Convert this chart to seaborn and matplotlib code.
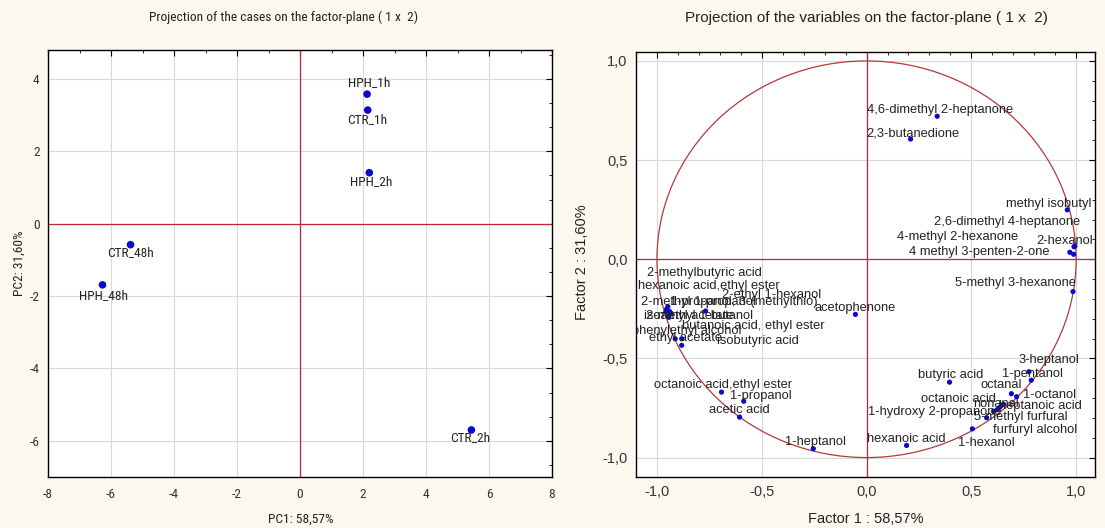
import numpy as np
import pandas as pd
import matplotlib
matplotlib.use("Agg")
import matplotlib.pyplot as plt
from matplotlib import font_manager
from matplotlib.font_manager import FontProperties
from matplotlib.patches import Circle
from matplotlib.ticker import MultipleLocator, AutoMinorLocator, FuncFormatter
import seaborn as sns

# cases (factor scores)
cases = ["HPH_1h", "CTR_1h", "HPH_2h", "CTR_48h", "HPH_48h", "CTR_2h"]
pc1 = [2.13, 2.15, 2.2, -5.38, -6.27, 5.44]
pc2 = [3.58, 3.14, 1.41, -0.58, -1.69, -5.70]

# variables (factor loadings)
variables = [
    "4,6-dimethyl 2-heptanone", "2,3-butanedione", "methyl isobutyl ketone",
    "2,6-dimethyl 4-heptanone", "4-methyl 2-hexanone", "2-hexanol",
    "4 methyl 3-penten-2-one", "5-methyl 3-hexanone", "acetophenone",
    "2-methylbutyric acid", "hexanoic acid,ethyl ester", "2-ethyl 1-hexanol",
    "2-methyl 1-propanol", "1-propanol, 3-(methylthio)", "isoamyl acetate",
    "2-methyl 1-butanol", "phenylethyl alcohol", "butanoic acid, ethyl ester",
    "ethyl acetate", "isobutyric acid", "octanoic acid,ethyl ester",
    "1-propanol", "acetic acid", "1-heptanol", "hexanoic acid", "1-hexanol",
    "furfuryl alcohol", "5-methyl furfural", "1-hydroxy 2-propanone",
    "octanoic acid", "nonanal", "heptanoic acid", "octanal", "1-octanol",
    "1-pentanol", "3-heptanol", "butyric acid",
]
factor1 = [0.337, 0.210, 0.958, 0.990, 0.970, 0.994, 0.988, 0.985, -0.053,
           -0.948, -0.958, -0.945, -0.932, -0.768, -0.955, -0.940, -0.882,
           -0.943, -0.913, -0.882, -0.692, -0.586, -0.606, -0.254, 0.191,
           0.505, 0.573, 0.606, 0.624, 0.636, 0.644, 0.654, 0.691, 0.716,
           0.786, 0.775, 0.396]
factor2 = [0.721, 0.606, 0.249, 0.063, 0.035, 0.067, 0.025, -0.163, -0.278,
           -0.239, -0.266, -0.289, -0.273, -0.261, -0.253, -0.263, -0.401,
           -0.293, -0.401, -0.434, -0.670, -0.716, -0.796, -0.955, -0.939,
           -0.855, -0.799, -0.766, -0.758, -0.746, -0.737, -0.732, -0.678,
           -0.693, -0.610, -0.567, -0.620]

# label placement (pixel offsets from the point)
case_off = [(2, 12), (-1, -9), (1.5, -8.5), (0, -8), (1, -10.5), (-1, -7.5)]
var_off = [(3, 6.6), (2, 6), (2.3, 5.7), (-66.5, 24.5), (-112, 15), (-10, 5),
           (-94.5, 2), (-58, 8.3), (0, 6), (36.7, 33.3), (42.7, 26), (103, 21.3),
           (27, 11), (38, 8.7), (22, -6.7), (29.7, -5), (4.7, 7.6), (84, -8.7),
           (10.3, 0.8), (76, 4.3), (2, 7), (16.7, 5), (0, 7), (1.8, 6.3),
           (0, 6.7), (14.3, -14), (48, -12.7), (27.5, -5.6), (-62.7, -2.3),
           (-41.3, 8.4), (-6, 1), (37, -1.7), (-9.7, 8.6), (33, 1.3),
           (1.3, 6.7), (19.7, 11.3), (1, 7)]

df_cases = pd.DataFrame({"case": cases, "PC1": pc1, "PC2": pc2})
df_vars = pd.DataFrame({"var": variables, "F1": factor1, "F2": factor2})

sns.set_style("white")
plt.rcParams["font.family"] = ["Liberation Sans", "DejaVu Sans"]

# condensed face for the left panel (Statistica uses Arial Narrow there)
files = [f.fname for f in font_manager.fontManager.ttflist]
narrow_fp, nsz = None, 8.3
for key, size in [("LiberationSansNarrow-Regular", 10),
                  ("RobotoCondensed-Regular", 9.6),
                  ("DejaVuSansCondensed.ttf", 8.6)]:
    hit = [f for f in files if key in f]
    if hit:
        narrow_fp, nsz = FontProperties(fname=hit[0]), size
        break
if narrow_fp is None:
    narrow_fp = FontProperties(family="Liberation Sans")


def nfont(size=None):
    fp = narrow_fp.copy()
    fp.set_size(size or nsz)
    return fp


bg = "#fcf8ef"
red = "#c0272d"
blue = "#0a0acf"
txt = "#222222"

fig = plt.figure(figsize=(11.05, 5.28), dpi=100, facecolor=bg)
ax1 = fig.add_axes([48 / 1105, 51 / 528, 504 / 1105, 427 / 528])
ax2 = fig.add_axes([636 / 1105, 51 / 528, 459 / 1105, 425 / 528])

for ax in (ax1, ax2):
    ax.set_facecolor("white")
    ax.grid(True, color="#d8d8d8", lw=0.8)
    ax.set_axisbelow(True)
    for s in ax.spines.values():
        s.set_color("black")
        s.set_linewidth(1.0)
    ax.axhline(0, color=red, lw=0.9, zorder=1)
    ax.axvline(0, color=red, lw=0.9, zorder=1)
    ax.tick_params(which="both", direction="in", top=True, right=True,
                   colors="black", labelcolor="#333333")
    ax.tick_params(which="major", length=4)
    ax.tick_params(which="minor", length=2.5)

# left: cases
sns.scatterplot(data=df_cases, x="PC1", y="PC2", ax=ax1, color=blue, s=30,
                edgecolor="none", legend=False, zorder=3)
ax1.set_xlim(-8, 8)
ax1.set_ylim(-7, 4.8)
ax1.xaxis.set_major_locator(MultipleLocator(2))
ax1.xaxis.set_minor_locator(AutoMinorLocator(2))
ax1.yaxis.set_major_locator(MultipleLocator(2))
ax1.yaxis.set_minor_locator(AutoMinorLocator(3))
ax1.xaxis.set_major_formatter(FuncFormatter(lambda v, p: f"{v:.0f}"))
ax1.yaxis.set_major_formatter(FuncFormatter(lambda v, p: f"{v:.0f}"))
ax1.tick_params(axis="x", pad=8)
ax1.tick_params(axis="y", pad=6)
ax1.set_xlabel("")
ax1.set_ylabel("")
fig.canvas.draw()
for lab in ax1.get_xticklabels() + ax1.get_yticklabels():
    lab.set_fontproperties(nfont())
for name, x, y, (dx, dy) in zip(cases, pc1, pc2, case_off):
    ax1.annotate(name, (x, y), xytext=(dx, dy), textcoords="offset pixels",
                 ha="center", va="center", fontproperties=nfont(),
                 color=txt, zorder=4)

# right: variables
ax2.add_patch(Circle((0, 0), 1, fill=False, ec="#b23a3a", lw=0.9, zorder=2))
sns.scatterplot(data=df_vars, x="F1", y="F2", ax=ax2, color=blue, s=14,
                edgecolor="none", legend=False, zorder=3)
ax2.set_xlim(-1.1, 1.09)
ax2.set_ylim(-1.098, 1.045)
for axis in (ax2.xaxis, ax2.yaxis):
    axis.set_major_locator(MultipleLocator(0.5))
    axis.set_minor_locator(MultipleLocator(0.1))
    axis.set_major_formatter(FuncFormatter(
        lambda v, p: f"{0.0 if abs(v) < 1e-9 else v:.1f}".replace(".", ",")))
ax2.tick_params(labelsize=10.5)
ax2.tick_params(axis="x", pad=6)
ax2.tick_params(axis="y", pad=6)
ax2.set_xlabel("")
ax2.set_ylabel("")
for name, x, y, (dx, dy) in zip(variables, factor1, factor2, var_off):
    ax2.annotate(name, (x, y), xytext=(dx, dy), textcoords="offset pixels",
                 ha="center", va="center", fontsize=9.3, color=txt,
                 clip_on=True, zorder=4)

# titles and axis labels
fig.text(284 / 1105, 1 - 17 / 528,
         "Projection of the cases on the factor-plane ( 1 x  2)",
         ha="center", va="center", fontproperties=nfont(), color=txt)
fig.text(866 / 1105, 1 - 18 / 528,
         "Projection of the variables on the factor-plane ( 1 x  2)",
         ha="center", va="center", fontsize=11, color=txt)
fig.text(301 / 1105, 1 - 519 / 528, "PC1: 58,57%", ha="center", va="center",
         fontproperties=nfont(), color=txt)
fig.text(19 / 1105, 1 - 263 / 528, "PC2: 31,60%", ha="center", va="center",
         rotation=90, fontproperties=nfont(), color=txt)
fig.text(866 / 1105, 1 - 519 / 528, "Factor 1 : 58,57%", ha="center",
         va="center", fontsize=10.5, color=txt)
fig.text(582 / 1105, 1 - 262 / 528, "Factor 2 : 31,60%", ha="center",
         va="center", rotation=90, fontsize=10.5, color=txt)

fig.savefig("out.png", dpi=100, facecolor=bg)
